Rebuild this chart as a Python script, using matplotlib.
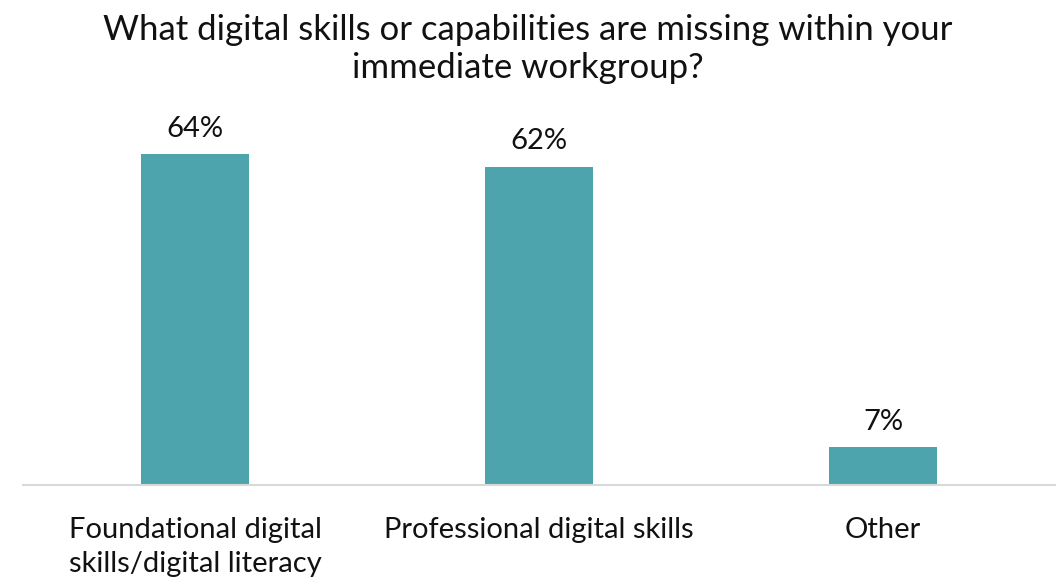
import matplotlib
matplotlib.use("Agg")
import matplotlib.pyplot as plt

# survey answers
categories = ["Foundational digital\nskills/digital literacy",
              "Professional digital skills",
              "Other"]
shares = [64.0, 61.5, 7.3]

plt.rcParams['font.family'] = ['Lato', 'DejaVu Sans']

fig = plt.figure(figsize=(10.56, 5.8), dpi=100)
ax = fig.add_axes([23 / 1056, 95 / 580, 1032 / 1056, 362 / 580])

bars = ax.bar(range(len(categories)), shares, width=0.314, color="#4EA4AD")

for rect, v in zip(bars, shares):
    ax.annotate("{}%".format(round(v)), (rect.get_x() + rect.get_width() / 2, rect.get_height()),
                xytext=(0, 9), textcoords="offset points",
                ha="center", va="bottom", fontsize=21, color="#111111")

ax.set_xlim(-0.5, 2.5)
ax.set_ylim(0, 70)
ax.set_xticks(range(len(categories)))
ax.set_xticklabels(categories, fontsize=21, color="#111111", linespacing=1.4)
ax.tick_params(axis="x", length=0, pad=23)
ax.set_yticks([])

for side in ["top", "right", "left"]:
    ax.spines[side].set_visible(False)
ax.spines["bottom"].set_color("#D9D9D9")
ax.spines["bottom"].set_linewidth(1.5)

fig.text(0.5, 0.975, "What digital skills or capabilities are missing within your\nimmediate workgroup?",
         ha="center", va="top", fontsize=25, color="#111111", linespacing=1.2)

fig.savefig("out.png", dpi=100)
